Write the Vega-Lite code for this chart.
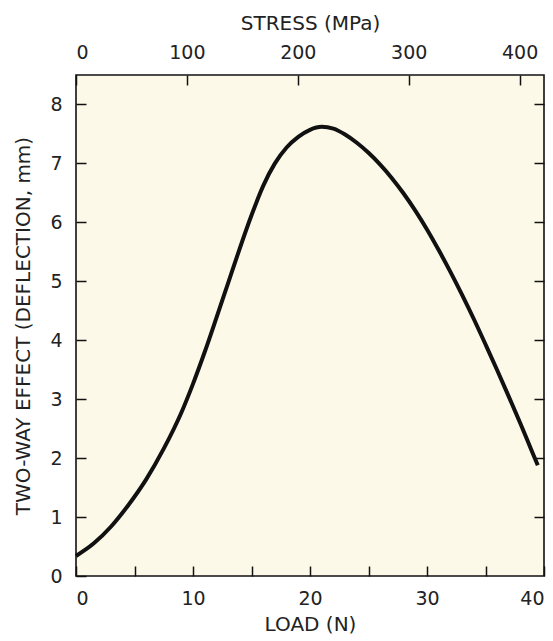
{
  "$schema": "https://vega.github.io/schema/vega-lite/v6.json",
  "autosize": "none",
  "width": 468,
  "height": 501,
  "padding": {"left": 76, "top": 75, "right": 9, "bottom": 65},
  "background": "#ffffff",
  "config": {
    "view": {"fill": "#fdf9e9", "stroke": "#111111", "strokeWidth": 1.6},
    "font": "DejaVu Sans",
    "axis": {
      "grid": false,
      "domain": false,
      "tickColor": "#111111",
      "tickWidth": 1.5,
      "tickSize": -10,
      "labelColor": "#222222",
      "labelFontSize": 19,
      "labelFont": "DejaVu Sans",
      "titleFont": "DejaVu Sans",
      "titleFontWeight": "normal",
      "titleColor": "#222222",
      "titleFontSize": 20
    }
  },
  "layer": [
    {
      "data": {
        "values": [
          {"load": 0, "deflection": 0.34},
          {"load": 1.5, "deflection": 0.55},
          {"load": 3, "deflection": 0.84},
          {"load": 4.5, "deflection": 1.21},
          {"load": 6, "deflection": 1.64},
          {"load": 7.5, "deflection": 2.16},
          {"load": 9, "deflection": 2.77},
          {"load": 10, "deflection": 3.26},
          {"load": 11, "deflection": 3.8},
          {"load": 12, "deflection": 4.38},
          {"load": 13, "deflection": 4.97},
          {"load": 14, "deflection": 5.56},
          {"load": 15, "deflection": 6.12},
          {"load": 16, "deflection": 6.62},
          {"load": 17, "deflection": 7.0},
          {"load": 18, "deflection": 7.27},
          {"load": 19, "deflection": 7.45},
          {"load": 20, "deflection": 7.57},
          {"load": 21, "deflection": 7.62},
          {"load": 22, "deflection": 7.59},
          {"load": 23, "deflection": 7.49},
          {"load": 24, "deflection": 7.35},
          {"load": 25, "deflection": 7.18},
          {"load": 26, "deflection": 6.98},
          {"load": 27, "deflection": 6.75},
          {"load": 28, "deflection": 6.49},
          {"load": 29, "deflection": 6.2},
          {"load": 30, "deflection": 5.88},
          {"load": 31, "deflection": 5.53},
          {"load": 32, "deflection": 5.16},
          {"load": 33, "deflection": 4.77},
          {"load": 34, "deflection": 4.36},
          {"load": 35, "deflection": 3.93},
          {"load": 36, "deflection": 3.49},
          {"load": 37, "deflection": 3.04},
          {"load": 38, "deflection": 2.58},
          {"load": 39, "deflection": 2.1},
          {"load": 39.47, "deflection": 1.88}
        ]
      },
      "mark": {"type": "line", "interpolate": "monotone", "color": "#111111", "strokeWidth": 4, "strokeCap": "butt"},
      "encoding": {
        "x": {
          "field": "load", "type": "quantitative",
          "scale": {"domain": [0, 40], "nice": false, "zero": false},
          "axis": {
            "orient": "bottom", "title": "LOAD (N)",
            "values": [0, 5, 10, 15, 20, 25, 30, 35, 40],
            "labelExpr": "datum.value % 10 === 0 ? datum.label : ''",
            "labelPadding": 23, "titlePadding": 6
          }
        },
        "y": {
          "field": "deflection", "type": "quantitative",
          "scale": {"domain": [0, 8.5], "nice": false},
          "axis": {
            "orient": "left", "title": "TWO-WAY EFFECT (DEFLECTION, mm)",
            "values": [0, 1, 2, 3, 4, 5, 6, 7, 8],
            "labelPadding": 24, "titlePadding": 16
          }
        }
      }
    },
    {
      "data": {"values": [{"stress": 0, "deflection": 0}, {"stress": 400, "deflection": 8}]},
      "mark": {"type": "point", "opacity": 0},
      "encoding": {
        "x": {
          "field": "stress", "type": "quantitative",
          "scale": {"domain": [0, 422], "nice": false, "zero": false},
          "axis": {
            "orient": "top", "title": "STRESS (MPa)",
            "values": [0, 100, 200, 300, 400],
            "labelPadding": 23, "titlePadding": 10
          }
        },
        "y": {
          "field": "deflection", "type": "quantitative",
          "scale": {"domain": [0, 8.5], "nice": false},
          "axis": {
            "orient": "right", "title": null, "labels": false,
            "values": [1, 2, 3, 4, 5, 6, 7, 8]
          }
        }
      }
    }
  ],
  "resolve": {"scale": {"x": "independent", "y": "independent"}, "axis": {"x": "independent", "y": "independent"}}
}
